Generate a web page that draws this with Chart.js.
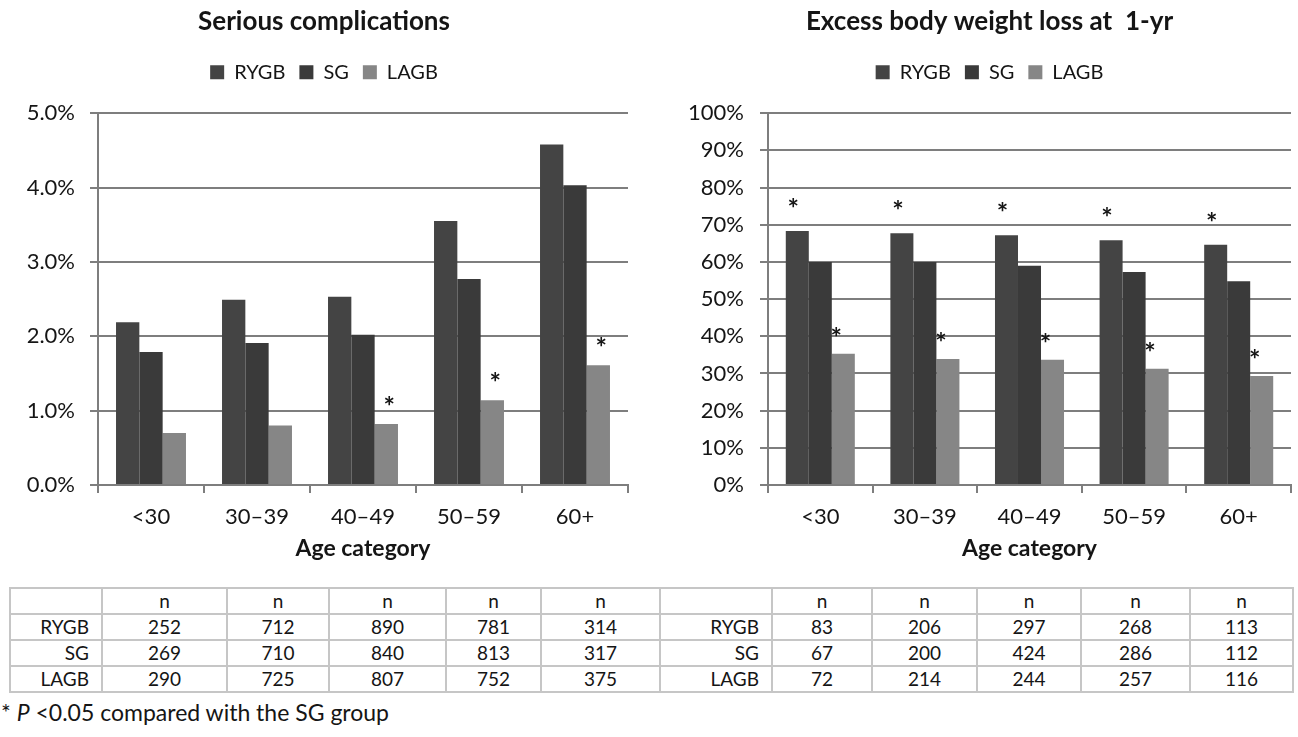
<!DOCTYPE html>
<html lang="en">
<head>
    <meta charset="UTF-8">
    <title>Age category outcomes</title>
    <script src="https://cdn.jsdelivr.net/npm/chart.js"></script>
    <style>
        body { margin: 0; padding: 0; background: #fff; font-family: Lato, sans-serif; }
        .box { position: absolute; top: 0; height: 575px; }
        #left-box { left: 0; width: 650px; }
        #right-box { left: 650px; width: 648px; }
        #counts {
            position: absolute; left: 9px; top: 587px;
            border-collapse: collapse; table-layout: fixed;
            font-size: 19px; color: #151515;
        }
        #counts tr { height: 26px; }
        #counts td {
            border: 2px solid #c6c6c6; padding: 0 6px; line-height: 20px;
            text-align: center;
        }
        #counts td.lbl { text-align: right; padding-right: 12px; }
        #note { position: absolute; left: 1px; top: 698px; font-size: 23px; color: #151515; }
    </style>
</head>
<body>

<div id="left-box" class="box"><canvas id="complChart"></canvas></div>
<div id="right-box" class="box"><canvas id="ewlChart"></canvas></div>
<table id="counts"></table>
<div id="note">* <i>P</i> &lt;0.05 compared with the SG group</div>

<script>
    // categories and series
    const ageCats = ['<30', '30\u201339', '40\u201349', '50\u201359', '60+'];
    const groups = ['RYGB', 'SG', 'LAGB'];

    // serious complications (%)
    const complRYGB = [2.19, 2.49, 2.53, 3.55, 4.58];
    const complSG = [1.79, 1.91, 2.02, 2.77, 4.03];
    const complLAGB = [0.70, 0.80, 0.82, 1.14, 1.61];

    // excess body weight loss at 1 yr (%)
    const ewlRYGB = [68.3, 67.7, 67.2, 65.8, 64.6];
    const ewlSG = [60.0, 60.0, 59.0, 57.3, 54.8];
    const ewlLAGB = [35.3, 33.9, 33.7, 31.3, 29.3];

    // asterisks (P < 0.05 vs SG)
    const complStarLAGB = [false, false, true, true, true];
    const ewlStarRYGB = [true, true, true, true, true];
    const ewlStarLAGB = [true, true, true, true, true];

    // patient counts
    const complN = { RYGB: [252, 712, 890, 781, 314], SG: [269, 710, 840, 813, 317], LAGB: [290, 725, 807, 752, 375] };
    const ewlN = { RYGB: [83, 206, 297, 268, 113], SG: [67, 200, 424, 286, 112], LAGB: [72, 214, 244, 257, 116] };

    // table column widths (label + 5 counts, per side)
    const colWidths = [92, 125, 102, 117, 95, 119, 112, 100, 105, 104, 109, 103];

    const colors = ['#444444', '#3a3a3a', '#868686'];
    const gridColor = '#7e7e7e';
    const ink = '#151515';
    const font = 'Lato';

    // draw '*' above flagged bars
    const starPlugin = {
        id: 'stars',
        afterDatasetsDraw(chart, args, opts) {
            const ctx = chart.ctx;
            ctx.save();
            ctx.fillStyle = ink;
            ctx.font = 'bold 27px ' + font;
            ctx.textAlign = 'center';
            ctx.textBaseline = 'alphabetic';
            (opts.marks || []).forEach(m => {
                const meta = chart.getDatasetMeta(m.dataset);
                m.flags.forEach((on, i) => {
                    if (!on) return;
                    const bar = meta.data[i];
                    ctx.fillText('*', bar.x + (m.dx || 0), bar.y - m.lift);
                });
            });
            ctx.restore();
        }
    };

    function makeChart(id, title, series, yOpts, pad, yWidth, marks) {
        return new Chart(document.getElementById(id), {
            type: 'bar',
            data: {
                labels: ageCats,
                datasets: groups.map((g, k) => ({
                    label: g,
                    data: series[k],
                    backgroundColor: colors[k],
                    borderWidth: 0,
                    categoryPercentage: 0.66,
                    barPercentage: 1.0
                }))
            },
            options: {
                responsive: true,
                maintainAspectRatio: false,
                animation: false,
                layout: { padding: { left: pad[0], right: pad[1], top: 0, bottom: 13 } },
                plugins: {
                    title: {
                        display: true, text: title, color: ink,
                        font: { family: font, size: 26, weight: 'bold' },
                        padding: { top: 6, bottom: 11 }
                    },
                    legend: {
                        display: true, position: 'top',
                        labels: {
                            color: ink, boxWidth: 14, boxHeight: 14, padding: 14,
                            font: { family: font, size: 20 }
                        }
                    },
                    // empty subtitle used as spacer between legend and plot
                    subtitle: { display: true, text: '', weight: 500, padding: 0, font: { size: 21, lineHeight: 1 } },
                    tooltip: { enabled: false },
                    stars: { marks: marks }
                },
                scales: {
                    x: {
                        grid: { offset: true, drawOnChartArea: false, drawTicks: true, tickLength: 8, color: gridColor, lineWidth: 2 },
                        border: { color: gridColor, width: 2 },
                        ticks: { color: ink, padding: 11, font: { family: font, size: 22 } },
                        title: { display: true, text: 'Age category', color: ink, padding: { top: -7, bottom: 0 },
                                 font: { family: font, size: 23, weight: 'bold' } }
                    },
                    y: Object.assign({
                        beginAtZero: true,
                        grid: { color: gridColor, lineWidth: 2, tickLength: 8 },
                        border: { color: gridColor, width: 2 },
                        afterFit: s => { s.width = yWidth; }
                    }, yOpts)
                }
            },
            plugins: [starPlugin]
        });
    }

    makeChart('complChart', 'Serious complications', [complRYGB, complSG, complLAGB], {
        min: 0, max: 5,
        ticks: { stepSize: 1, padding: 15, color: ink, font: { family: font, size: 22 }, callback: v => v.toFixed(1) + '%' }
    }, [20, 22], 78, [{ dataset: 2, flags: complStarLAGB, lift: 8, dx: 3 }]);

    makeChart('ewlChart', 'Excess body weight loss at  1-yr', [ewlRYGB, ewlSG, ewlLAGB], {
        min: 0, max: 100,
        ticks: { stepSize: 10, padding: 16, color: ink, font: { family: font, size: 22 }, callback: v => v + '%' }
    }, [38, 7], 80, [
        { dataset: 0, flags: ewlStarRYGB, lift: 13, dx: -4 },
        { dataset: 2, flags: ewlStarLAGB, lift: 7, dx: -7 }
    ]);

    // counts table below both charts
    const tbl = document.getElementById('counts');
    const cg = document.createElement('colgroup');
    colWidths.forEach(w => {
        const c = document.createElement('col');
        c.style.width = w + 'px';
        cg.appendChild(c);
    });
    tbl.appendChild(cg);
    tbl.style.width = colWidths.reduce((a, b) => a + b, 0) + 'px';
    const head = tbl.insertRow();
    for (let side = 0; side < 2; side++) {
        head.insertCell().className = 'lbl';
        ageCats.forEach(() => { head.insertCell().textContent = 'n'; });
    }
    groups.forEach(g => {
        const row = tbl.insertRow();
        [complN, ewlN].forEach(src => {
            const c = row.insertCell();
            c.className = 'lbl';
            c.textContent = g;
            src[g].forEach(v => { row.insertCell().textContent = v; });
        });
    });
</script>

</body>
</html>
